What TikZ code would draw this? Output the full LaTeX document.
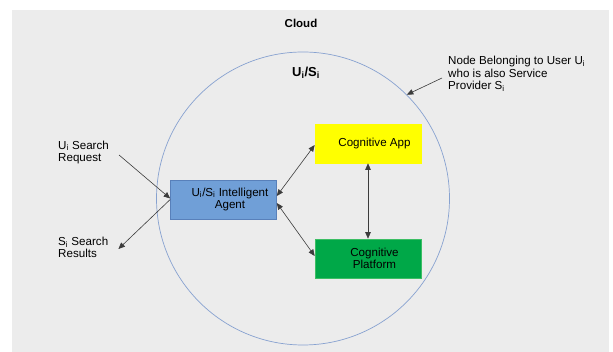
\documentclass[tikz,border=0pt]{standalone}
\usepackage{fontspec}
\setmainfont{Liberation Sans}
\usetikzlibrary{arrows.meta}
\definecolor{panelgrey}{RGB}{236,236,236}
\definecolor{ringblue}{RGB}{135,162,208}
\definecolor{agentfill}{RGB}{112,159,215}
\definecolor{agentline}{RGB}{88,128,186}
\definecolor{appfill}{RGB}{255,255,0}
\definecolor{platfill}{RGB}{0,168,72}
\definecolor{platline}{RGB}{60,190,100}
\definecolor{linkgrey}{RGB}{60,60,60}
\tikzset{
  txt/.style={font=\fontsize{11.6}{12.6}\selectfont, align=left, inner sep=0pt},
  boxnode/.style={minimum width=106pt, minimum height=39pt, inner sep=0pt, line width=0.6pt},
  boxtext/.style={txt, align=center, xshift=6.5pt},
  tip/.tip={Triangle[length=6.5pt,width=5.5pt]},
  link/.style={draw=linkgrey, line width=0.6pt, -tip},
  dlink/.style={draw=linkgrey, line width=0.6pt, tip-tip}
}
\begin{document}
\begin{tikzpicture}[x=1pt,y=-1pt]
  % page and grey panel
  \useasboundingbox (0,0) rectangle (613,352);
  \fill[white] (0,0) rectangle (613,352);
  \fill[panelgrey] (12,10) rectangle (609,352);

  % titles
  \node[font=\fontsize{11.5}{13}\selectfont\bfseries, inner sep=0pt] (cloud) at (301,23) {Cloud};
  \node[circle, draw=ringblue, line width=0.7pt, minimum size=293pt, inner sep=0pt] (ring) at (303,198.5) {};
  \node[font=\fontsize{13}{15}\selectfont\bfseries, inner sep=0pt] (owner) at (306,73) {U\textsubscript{i}/S\textsubscript{i}};

  % annotation
  \node[txt, anchor=west] (note) at (448,74)
    {Node Belonging to User U\textsubscript{i}\\who is also Service\\Provider S\textsubscript{i}};
  \draw[link] ([shift={(-6pt,-4pt)}]note.west) -- (ring.45);

  % side texts
  \node[txt, anchor=west] (req) at (58,152.5) {U\textsubscript{i} Search\\Request};
  \node[txt, anchor=west] (res) at (58,247.5) {S\textsubscript{i} Search\\Results};

  % boxes
  \node[boxnode, fill=agentfill, draw=agentline,
        label={[boxtext]center:U\textsubscript{i}/S\textsubscript{i} Intelligent\\Agent}]
        (agent) at (223.5,199.5) {};
  \node[boxnode, fill=appfill, draw=appfill,
        label={[boxtext]center:Cognitive App}]
        (app) at (368,143.5) {};
  \node[boxnode, fill=platfill, draw=platline,
        label={[boxtext]center:Cognitive\\Platform}]
        (plat) at (368,258.5) {};

  % connectors
  \draw[link] ([shift={(10pt,-2.5pt)}]req.east) -- ([yshift=1pt]agent.west);
  \draw[link] (agent.west) -- ([shift={(10pt,-1.5pt)}]res.east);
  \draw[dlink] ([yshift=3.5pt]agent.east) -- ([yshift=-1.5pt]app.west);
  \draw[dlink] ([yshift=-3.5pt]agent.east) -- ([yshift=2.5pt]plat.west);
  \draw[dlink] (app.south) -- (plat.north);
\end{tikzpicture}
\end{document}
